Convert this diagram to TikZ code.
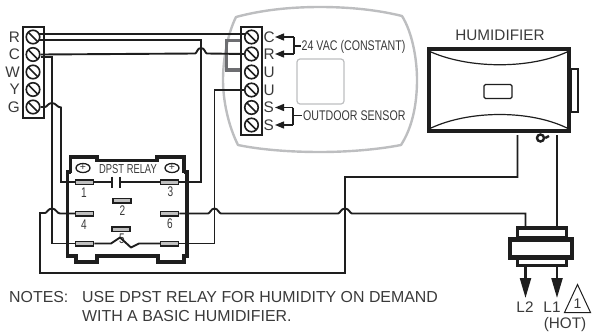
\documentclass[tikz,border=0pt]{standalone}
\usepackage{fontspec}
\setmainfont{Liberation Sans}
\newfontfamily\condf[FakeStretch=0.76]{Liberation Sans}
\newfontfamily\condg[FakeStretch=0.72]{Liberation Sans}
\usetikzlibrary{arrows.meta,calc,shapes.geometric}
\definecolor{ink}{HTML}{3A3A3A}
\definecolor{wire}{HTML}{1E1E1E}
\definecolor{shell}{HTML}{BDBEC0}
\definecolor{jump}{HTML}{6D6E71}
\tikzset{
 screw/.style={circle,draw=wire,line width=1.6pt,minimum size=13.5pt,inner sep=0pt,
   path picture={\draw[line width=1.6pt,wire] (path picture bounding box.north west)--(path picture bounding box.south east);}},
 pin/.style={rectangle,draw=wire,line width=1.5pt,fill=black!25,minimum width=18pt,minimum height=4.5pt,inner sep=0pt},
 wireln/.style={draw=wire,line width=1.9pt,line join=miter},
 thick box/.style={draw=wire,line join=miter},
 lab/.style={text=ink,font=\fontsize{15.3}{17}\selectfont,inner sep=0pt},
 cond/.style={text=ink,font=\condf\fontsize{14}{16}\selectfont,inner sep=0pt,anchor=west},
 num/.style={text=ink,font=\condg\fontsize{14}{16}\selectfont,inner sep=0pt},
 note/.style={text=ink,font=\fontsize{15.9}{17}\selectfont,inner sep=0pt,anchor=west},
 plug/.style={ellipse,draw=wire,line width=1.3pt,minimum width=14pt,minimum height=9pt,inner sep=0pt},
 head/.style={-{Triangle[length=9pt,width=7pt]},draw=wire,line width=1.4pt},
 bighead/.style={-{Triangle[length=20pt,width=11pt]},draw=wire,line width=2.2pt},
}
\begin{document}
\begin{tikzpicture}[x=1pt,y=-1pt]
\useasboundingbox (0,0) rectangle (592,335);
% thermostat shell
\draw[shell,line width=2.4pt,line join=round]
 (236,17) .. controls (262,10) and (290,7) .. (320,7)
 .. controls (350,7) and (378,10) .. (402,16)
 .. controls (412,32) and (417,58) .. (417,80)
 .. controls (417,105) and (412,128) .. (401,145)
 .. controls (375,150) and (345,152) .. (320,152)
 .. controls (292,152) and (262,150) .. (238,145)
 .. controls (228,125) and (223,100) .. (223,80)
 .. controls (223,58) and (228,33) .. (236,17) -- cycle;
\node[draw=shell,line width=1.2pt,rounded corners=3pt,minimum width=47pt,minimum height=45pt,inner sep=0pt] (display) at (320.5,81.5) {};
% jumper
\coordinate (jA) at (244,40.5);
\coordinate (jB) at (244,70);
\draw[jump,line width=3.8pt,line join=miter] (jA) -- (226.5,40.5) -- (226.5,70) -- (jB);
% left terminal block
\node[draw=wire,line width=1.6pt,minimum width=21pt,minimum height=91pt,inner sep=0pt] (lblock) at (33.5,72.5) {};
\foreach \n/\y in {R/37,C/54.5,W/72,Y/89.5,G/107}{
 \node[screw] (L\n) at (33,\y) {};
 \node[lab,anchor=east] (Ltxt\n) at (20,\y) {\n};
}
% right terminal block
\node[draw=wire,line width=1.6pt,fill=white,minimum width=21pt,minimum height=108pt,inner sep=0pt] (tblock) at (251.5,81) {};
\foreach \n/\t/\y in {a/C/37,b/R/54,c/U/72,d/U/90,e/S/107.5,f/S/125}{
 \node[screw] (T\n) at (251.5,\y) {};
 \node[lab,anchor=west] (Ttxt\n) at (263.5,\y) {\t};
}
\coordinate (rA) at (39,34);
\coordinate (rB) at (39,40);
\coordinate (tA) at (246,34);
% relay body
\draw[thick box,line width=3.6pt] (70.5,173) -- (70.5,157) -- (97,157) -- (97,160.5) -- (157,160.5) -- (157,157) -- (184,157) -- (184,173);
\draw[thick box,line width=3.6pt] (70.5,172) -- (67.5,172) -- (67.5,256) -- (76,256) -- (76,262) -- (97,262) -- (97,256) -- (158,256) -- (158,262) -- (184,262) -- (184,256) -- (187,256) -- (187,172) -- (184,172);
\node[num,font=\condg\fontsize{13}{15}\selectfont] (rtitle) at (128,169.5) {DPST RELAY};
\node[plug] (plA) at (83,168) {};
\node[plug] (plB) at (172,168) {};
\node[num,font=\fontsize{10.5}{10}\selectfont] (plusA) at (83,167.5) {+};
\node[num,font=\fontsize{10.5}{10}\selectfont] (plusB) at (172,167.5) {+};
% pins
\node[pin] (p1) at (84.5,182) {};
\node[pin] (p3) at (169.5,182) {};
\node[pin] (p2) at (122,200.5) {};
\node[pin] (p4) at (84.5,213.5) {};
\node[pin] (p6) at (169.5,213.5) {};
\node[pin] (p5) at (121,229) {};
\node[pin] (p7) at (84.5,243.5) {};
\node[pin] (p8) at (169.5,243.5) {};
\node[num] (n1) at (84,193) {1};
\node[num] (n3) at (170.5,192) {3};
\node[num] (n2) at (122.5,211) {2};
\node[num] (n4) at (84,224.5) {4};
\node[num] (n6) at (170,223.5) {6};
\node[num] (n5) at (122,239) {5};
% contacts
\coordinate (capL) at (112,182);
\coordinate (capR) at (120,182);
\draw[wireln] (p1.east) -- (capL);
\draw[wireln] (capR) -- (p3.west);
\draw[wire,line width=2.2pt] (112,176.5) -- (112,188);
\draw[wire,line width=2.2pt] (120,176.5) -- (120,188);
\draw[wireln,line join=round] (p7.east) -- (111,243.5) -- (120,237.5) -- (131,247.5) -- (139,243.5) -- (p8.west);
% wires
\draw[wireln] (rA) -- (tA);
\draw[wireln] (rB) -- (201,40) -- (201,182) -- (p3.east);
\draw[wireln] (LC.east) -- (195,53.5) .. controls (197,53.5) and (197,48) .. (201,48) .. controls (205,48) and (205,53.5) .. (207,53.5) -- (Tb.west);
\draw[wireln] (LC.east) ++(0,2.5) -- (52,57) -- (52,243.5) -- (p7.west);
\draw[wireln] (LG.east) -- (45,107) .. controls (47,107) and (48,103) .. (52,103) .. controls (56,103) and (57,107.5) .. (61,107.5) -- (61,182) -- (p1.west);
\draw[wireln] (Td.west) -- (214.5,90) -- (214.5,243.5) -- (p8.east);
% humidifier
\node[lab] (htitle) at (500,35) {HUMIDIFIER};
\node[draw=wire,line width=2pt,minimum width=7pt,minimum height=43pt,inner sep=0pt] (htab) at (574.5,90) {};
\node[draw=wire,line width=4pt,fill=white,minimum width=140pt,minimum height=82pt,inner sep=0pt] (hbox) at (499,90) {};
\draw[wire,line width=1.2pt] (431,52) .. controls (470,69) and (530,69) .. (567,52);
\draw[wire,line width=1.2pt] (431,128) .. controls (470,110) and (530,110) .. (567,128);
\node[draw=wire,line width=1.2pt,rounded corners=1.5pt,minimum width=28pt,minimum height=14pt,inner sep=0pt] (hwin) at (498,91.5) {};
\node[circle,draw=wire,line width=2.4pt,minimum size=7pt,inner sep=0pt] (hknob) at (540.5,138) {};
\draw[wire,line width=2.4pt] (hknob.east) -- (549,136);
\coordinate (hL) at (517.5,135);
\coordinate (hR) at (557,135);
% connector
\draw[thick box,line width=3.4pt] (517.5,238) rectangle (566.5,228);
\draw[thick box,line width=3.4pt] (517.5,258) rectangle (566.5,265.5);
\node[draw=wire,line width=4.6pt,fill=white,minimum width=62pt,minimum height=18pt,inner sep=0pt] (cmid) at (541,248.5) {};
\coordinate (cL) at (525.5,226.5);
\coordinate (cR) at (557,226.5);
\coordinate (oL) at (525.5,267);
\coordinate (oR) at (557,267);
\coordinate (tipL) at (525.5,298);
\coordinate (tipR) at (557,298);
\draw[bighead] (oL) -- (tipL);
\draw[bighead] (oR) -- (tipR);
\draw[wireln] (hR) -- (cR);
\draw[wireln] (hL) -- (517.5,177) -- (345,177) -- (345,273) -- (40,273) -- (40,213) -- (45,213)
 .. controls (47,213) and (48,208.5) .. (52,208.5) .. controls (56,208.5) and (57,213.5) .. (60,213.5) -- (p4.west);
\draw[wireln] (p6.east) -- (208,213.5) .. controls (210,213.5) and (211,208.5) .. (214.5,208.5) .. controls (218,208.5) and (219,213.5) .. (221,213.5)
 -- (338,213.5) .. controls (340,213.5) and (341,208.5) .. (345,208.5) .. controls (349,208.5) and (350,213.5) .. (352,213.5)
 -- (525.5,213.5) -- (cL);
% labels on thermostat
\coordinate (aC) at (275,37);
\coordinate (aR) at (275,54);
\coordinate (aS) at (275,107.5);
\coordinate (aT) at (275,125);
\draw[head] (294,37) -- (aC);
\draw[head] (294,54) -- (aR);
\draw[wireln,line width=1.4pt] (294,37) -- (294,54);
\draw[wireln,line width=1.4pt] (294,46) -- (301,46);
\draw[head] (293,107.5) -- (aS);
\draw[head] (293,125) -- (aT);
\draw[wireln,line width=1.4pt] (293,107.5) -- (293,125);
\draw[wireln,line width=1.4pt] (293,115.5) -- (302,115.5);
\node[cond] (vac) at (301.5,46.5) {24 VAC (CONSTANT)};
\node[cond] (sens) at (303,115.5) {OUTDOOR SENSOR};
% bottom labels
\node[lab] (l2) at (525,307.5) {L2};
\node[lab] (l1) at (552,307.5) {L1};
\node[lab] (hot) at (565,325) {(HOT)};
\coordinate (triA) at (577.5,284.5);
\coordinate (triB) at (564.5,312.5);
\coordinate (triC) at (590.5,312.5);
\draw[wire,line width=1pt,line join=miter] (triA) -- (triB) -- (triC) -- cycle;
\node[lab,font=\fontsize{14}{16}\selectfont] (t1) at (577.5,303.5) {1};
\node[note] (nh) at (9,297.5) {NOTES:};
\node[note] (n1a) at (82,297.5) {USE DPST RELAY FOR HUMIDITY ON DEMAND};
\node[note] (n2a) at (82,316.5) {WITH A BASIC HUMIDIFIER.};
\end{tikzpicture}
\end{document}
